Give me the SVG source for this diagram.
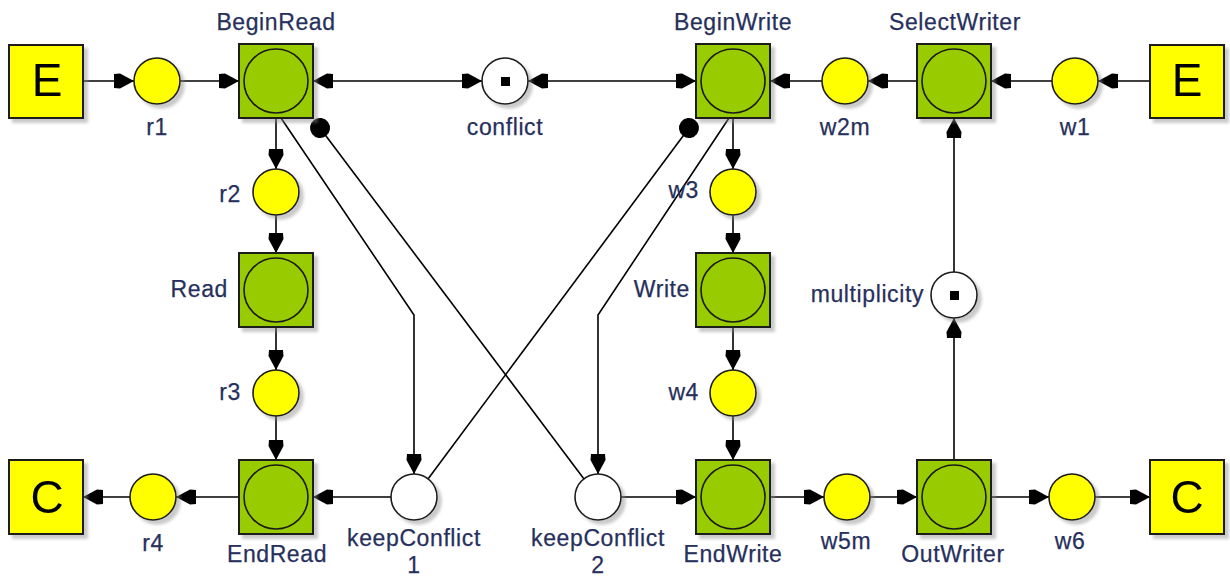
<svg xmlns="http://www.w3.org/2000/svg" width="1230" height="578" viewBox="0 0 1230 578">
  <defs>
    <filter id="shadow" x="-20%" y="-20%" width="150%" height="150%">
      <feDropShadow dx="4" dy="4" stdDeviation="1.5" flood-color="#8a8a8a" flood-opacity="0.45"/>
    </filter>
    <marker id="arw" viewBox="-21 -9 22 18" refX="0" refY="0" markerWidth="22" markerHeight="18" markerUnits="userSpaceOnUse" orient="auto-start-reverse">
      <path d="M0,0 L-14,-7.5 L-20,-7 L-20,7 L-14,7.5 Z" fill="#000"/>
    </marker>
    <marker id="dot" viewBox="-11 -11 22 22" refX="0" refY="0" markerWidth="22" markerHeight="22" markerUnits="userSpaceOnUse" orient="auto">
      <circle cx="0" cy="0" r="10" fill="#000"/>
    </marker>
  </defs>
  <style>
    .trans rect { fill: #99cc00; stroke: #1a1a1a; stroke-width: 2; }
    .trans circle { fill: #99cc00; stroke: #1a1a1a; stroke-width: 1.6; }
    .place { fill: #ffff00; stroke: #1a1a1a; stroke-width: 1.6; }
    .ctrl { fill: #ffffff; stroke: #1a1a1a; stroke-width: 1.6; }
    .env { fill: #ffff00; stroke: #1a1a1a; stroke-width: 2; }
    .env-text { font-family: "Liberation Sans", Arial, sans-serif; font-size: 46px; fill: #000; text-anchor: middle; }
    .lbl { font-family: "Liberation Sans", Arial, sans-serif; font-size: 23px; letter-spacing: 0.6px; fill: #27305c; text-anchor: middle; stroke: #27305c; stroke-width: 0.25px; }
    .lbl-r { text-anchor: end; }
    .arc { fill: none; stroke: #000; stroke-width: 1.6; }
    .arc-a { marker-end: url(#arw); }
    .arc-ab { marker-start: url(#arw); marker-end: url(#arw); }
    .arc-i { marker-end: url(#dot); }
    .token { fill: #000; }
  </style>

  <!-- connectors -->
  <g id="connectors">
    <!-- reader chain -->
    <line class="arc arc-a" x1="83" y1="81" x2="134" y2="81"/>
    <line class="arc arc-a" x1="180" y1="81" x2="239" y2="81"/>
    <line class="arc arc-ab" x1="313" y1="81" x2="482" y2="81"/>
    <line class="arc arc-ab" x1="528" y1="81" x2="696" y2="81"/>
    <line class="arc arc-a" x1="276" y1="118" x2="276" y2="169"/>
    <line class="arc arc-a" x1="276" y1="215" x2="276" y2="253"/>
    <line class="arc arc-a" x1="276" y1="327" x2="276" y2="370"/>
    <line class="arc arc-a" x1="276" y1="416" x2="276" y2="460"/>
    <line class="arc arc-a" x1="239" y1="497" x2="176" y2="497"/>
    <line class="arc arc-a" x1="130" y1="497" x2="83" y2="497"/>
    <line class="arc arc-a" x1="391" y1="497" x2="313" y2="497"/>
    <!-- writer chain -->
    <line class="arc arc-a" x1="1150" y1="81" x2="1098" y2="81"/>
    <line class="arc arc-a" x1="1052" y1="81" x2="991" y2="81"/>
    <line class="arc arc-a" x1="917" y1="81" x2="868" y2="81"/>
    <line class="arc arc-a" x1="822" y1="81" x2="770" y2="81"/>
    <line class="arc arc-a" x1="733" y1="118" x2="733" y2="169"/>
    <line class="arc arc-a" x1="733" y1="215" x2="733" y2="253"/>
    <line class="arc arc-a" x1="733" y1="327" x2="733" y2="370"/>
    <line class="arc arc-a" x1="733" y1="416" x2="733" y2="460"/>
    <line class="arc arc-a" x1="621" y1="497" x2="696" y2="497"/>
    <line class="arc arc-a" x1="770" y1="497" x2="824" y2="497"/>
    <line class="arc arc-a" x1="870" y1="497" x2="917" y2="497"/>
    <line class="arc arc-a" x1="991" y1="497" x2="1049" y2="497"/>
    <line class="arc arc-a" x1="1095" y1="497" x2="1150" y2="497"/>
    <line class="arc arc-a" x1="954" y1="460" x2="954" y2="318"/>
    <line class="arc arc-a" x1="954" y1="272" x2="954" y2="118"/>
    <!-- crossing arcs to the keepConflict places -->
    <polyline class="arc arc-a" points="281,118 414,315 414,474"/>
    <polyline class="arc arc-a" points="729,118 598,315 598,474"/>
    <line class="arc arc-i" x1="584" y1="479" x2="320" y2="128"/>
    <line class="arc arc-i" x1="428" y1="479" x2="689" y2="128"/>
  </g>

  <!-- environment nodes -->
  <g id="env-E-left" filter="url(#shadow)">
    <rect class="env" x="9" y="45" width="74" height="73"/>
    <text class="env-text" x="47" y="96">E</text>
  </g>
  <g id="env-E-right" filter="url(#shadow)">
    <rect class="env" x="1150" y="45" width="74" height="73"/>
    <text class="env-text" x="1187" y="96">E</text>
  </g>
  <g id="env-C-left" filter="url(#shadow)">
    <rect class="env" x="9" y="460" width="74" height="74"/>
    <text class="env-text" x="47" y="513">C</text>
  </g>
  <g id="env-C-right" filter="url(#shadow)">
    <rect class="env" x="1150" y="460" width="74" height="74"/>
    <text class="env-text" x="1187" y="513">C</text>
  </g>

  <!-- transitions -->
  <g id="BeginRead" class="trans">
    <rect x="239" y="44" width="74" height="74" filter="url(#shadow)"/>
    <circle cx="276" cy="81" r="32"/>
    <text class="lbl" x="276" y="30">BeginRead</text>
  </g>
  <g id="Read" class="trans">
    <rect x="239" y="253" width="74" height="74" filter="url(#shadow)"/>
    <circle cx="276" cy="290" r="32"/>
    <text class="lbl lbl-r" x="228" y="297">Read</text>
  </g>
  <g id="EndRead" class="trans">
    <rect x="239" y="460" width="74" height="74" filter="url(#shadow)"/>
    <circle cx="276" cy="497" r="32"/>
    <text class="lbl" x="277" y="562">EndRead</text>
  </g>
  <g id="BeginWrite" class="trans">
    <rect x="696" y="44" width="74" height="74" filter="url(#shadow)"/>
    <circle cx="733" cy="81" r="32"/>
    <text class="lbl" x="733" y="30">BeginWrite</text>
  </g>
  <g id="Write" class="trans">
    <rect x="696" y="253" width="74" height="74" filter="url(#shadow)"/>
    <circle cx="733" cy="290" r="32"/>
    <text class="lbl lbl-r" x="690" y="297">Write</text>
  </g>
  <g id="EndWrite" class="trans">
    <rect x="696" y="460" width="74" height="74" filter="url(#shadow)"/>
    <circle cx="733" cy="497" r="32"/>
    <text class="lbl" x="733" y="562">EndWrite</text>
  </g>
  <g id="SelectWriter" class="trans">
    <rect x="917" y="44" width="74" height="74" filter="url(#shadow)"/>
    <circle cx="954" cy="81" r="32"/>
    <text class="lbl" x="955" y="30">SelectWriter</text>
  </g>
  <g id="OutWriter" class="trans">
    <rect x="917" y="460" width="74" height="74" filter="url(#shadow)"/>
    <circle cx="954" cy="497" r="32"/>
    <text class="lbl" x="953" y="562">OutWriter</text>
  </g>

  <!-- places -->
  <g id="r1">
    <circle class="place" cx="157" cy="81" r="23" filter="url(#shadow)"/>
    <text class="lbl" x="157" y="135">r1</text>
  </g>
  <g id="r2">
    <circle class="place" cx="276" cy="192" r="23" filter="url(#shadow)"/>
    <text class="lbl lbl-r" x="241" y="202">r2</text>
  </g>
  <g id="r3">
    <circle class="place" cx="276" cy="393" r="23" filter="url(#shadow)"/>
    <text class="lbl lbl-r" x="241" y="400">r3</text>
  </g>
  <g id="r4">
    <circle class="place" cx="153" cy="497" r="23" filter="url(#shadow)"/>
    <text class="lbl" x="153" y="551">r4</text>
  </g>
  <g id="conflict">
    <circle class="ctrl" cx="505" cy="81" r="23" filter="url(#shadow)"/>
    <rect class="token" x="501" y="77" width="9" height="9"/>
    <text class="lbl" x="505" y="135">conflict</text>
  </g>
  <g id="w1">
    <circle class="place" cx="1075" cy="81" r="23" filter="url(#shadow)"/>
    <text class="lbl" x="1075" y="135">w1</text>
  </g>
  <g id="w2m">
    <circle class="place" cx="845" cy="81" r="23" filter="url(#shadow)"/>
    <text class="lbl" x="845" y="135">w2m</text>
  </g>
  <g id="w3">
    <circle class="place" cx="733" cy="192" r="23" filter="url(#shadow)"/>
    <text class="lbl lbl-r" x="699" y="198">w3</text>
  </g>
  <g id="w4">
    <circle class="place" cx="733" cy="393" r="23" filter="url(#shadow)"/>
    <text class="lbl lbl-r" x="699" y="400">w4</text>
  </g>
  <g id="w5m">
    <circle class="place" cx="847" cy="497" r="23" filter="url(#shadow)"/>
    <text class="lbl" x="846" y="549">w5m</text>
  </g>
  <g id="w6">
    <circle class="place" cx="1072" cy="497" r="23" filter="url(#shadow)"/>
    <text class="lbl" x="1070" y="549">w6</text>
  </g>
  <g id="multiplicity">
    <circle class="ctrl" cx="954" cy="295" r="23" filter="url(#shadow)"/>
    <rect class="token" x="950" y="291" width="9" height="9"/>
    <text class="lbl lbl-r" x="924" y="302">multiplicity</text>
  </g>
  <g id="keepConflict1">
    <circle class="ctrl" cx="414" cy="497" r="23" filter="url(#shadow)"/>
    <text class="lbl" x="414" y="546">keepConflict</text>
    <text class="lbl" x="414" y="573">1</text>
  </g>
  <g id="keepConflict2">
    <circle class="ctrl" cx="598" cy="497" r="23" filter="url(#shadow)"/>
    <text class="lbl" x="598" y="546">keepConflict</text>
    <text class="lbl" x="598" y="573">2</text>
  </g>
</svg>
